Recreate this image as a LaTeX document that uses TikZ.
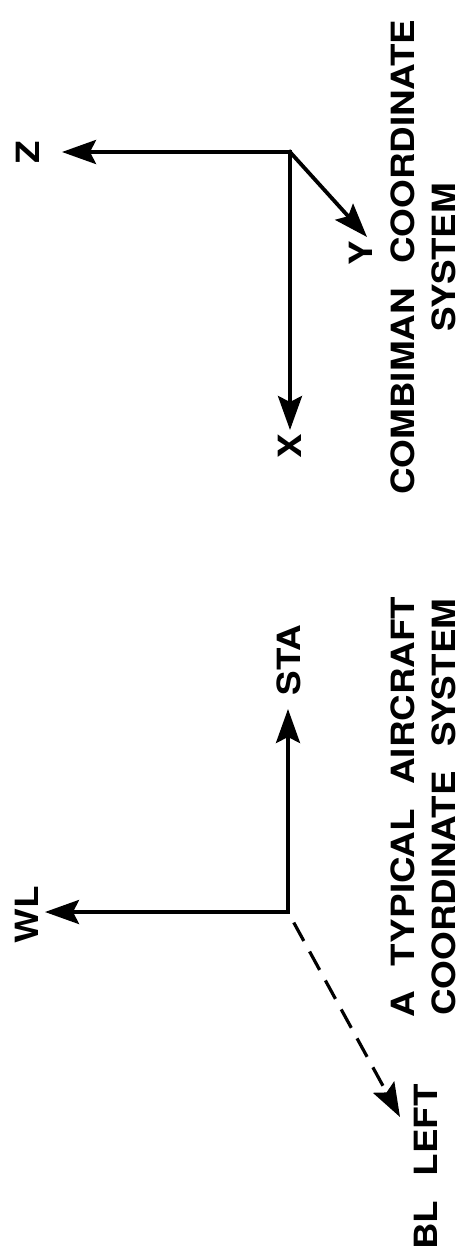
\documentclass[tikz,border=0pt]{standalone}
\usepackage{fontspec}
\newfontfamily\axfont[FakeStretch=1.15, WordSpace=2.4]{TeX Gyre Heros}
\usetikzlibrary{arrows.meta}

\begin{document}
\begin{tikzpicture}[
    x=1pt, y=-1pt,
    axname/.style={rotate=90, inner sep=0pt, font=\axfont\bfseries\fontsize{32}{41}\selectfont},
    sysname/.style={axname, align=center},
    axis/.style={line width=3.8pt, line cap=rect, -{Stealth[length=34pt, width=24pt, inset=6pt]}},
    hiddenaxis/.style={axis, line width=3.2pt, line cap=butt, dash pattern=on 21pt off 12pt, dash phase=21pt}
]
\useasboundingbox (0,0) rectangle (468,1255);

% Combiman system
\coordinate (cmorig) at (290,152);
\coordinate (cmz) at (62,152);
\coordinate (cmy) at (367,237);
\coordinate (cmx) at (290,430);
\node[axname] (zlbl) at (28,152) {Z};
\node[axname] (ylbl) at (361,253) {Y};
\node[axname] (xlbl) at (290,446) {X};
\node[sysname] (cmtitle) at (423.5,257) {COMBIMAN COORDINATE\\SYSTEM};

% Aircraft system
\coordinate (acorig) at (288,912);
\coordinate (acwl) at (45,912);
\coordinate (acsta) at (288,709);
\coordinate (acbl) at (400,1117);
\node[axname] (wllbl) at (27,915) {WL};
\node[axname] (stalbl) at (289,660) {STA};
\node[axname] (bllbl) at (426,1167) {BL LEFT};
\node[sysname] (actitle) at (423.5,807) {A TYPICAL AIRCRAFT\\COORDINATE SYSTEM};

% Edges
\draw[axis] (cmorig) -- (cmz);
\draw[axis] (cmorig) -- (cmy);
\draw[axis] (cmorig) -- (cmx);

\draw[axis] (acorig) -- (acwl);
\draw[axis] (acorig) -- (acsta);
\draw[hiddenaxis] (acorig) -- (acbl);

\end{tikzpicture}
\end{document}
